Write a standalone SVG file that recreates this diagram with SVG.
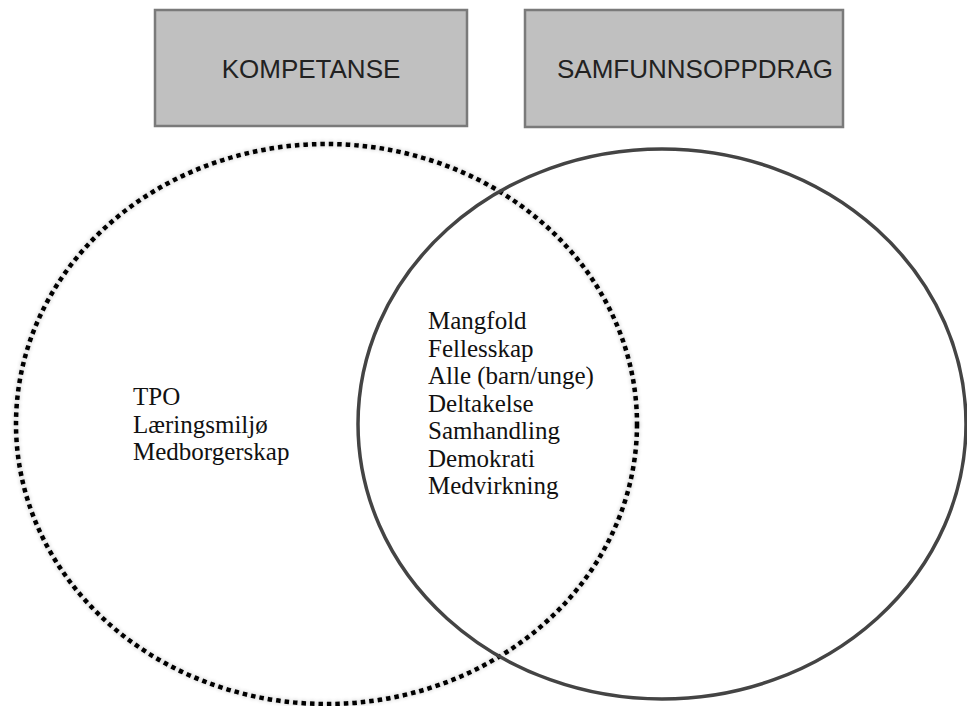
<svg xmlns="http://www.w3.org/2000/svg" width="967" height="706" viewBox="0 0 967 706">
  <defs>
    <style>
      .box { fill: #c0c0c0; stroke: #7a7a7a; stroke-width: 2.5; }
      .boxlabel { font-family: "Liberation Sans", Arial, sans-serif; font-size: 26px; fill: #222; text-anchor: middle; }
      .item { font-family: "Liberation Serif", "Times New Roman", serif; font-size: 25px; fill: #111; }
      .dotted { fill: none; stroke: #000; stroke-width: 4.5; stroke-dasharray: 4.5 4; }
      .solid { fill: none; stroke: #444; stroke-width: 3.5; }
    </style>
    <filter id="soft" x="-5%" y="-5%" width="110%" height="110%">
      <feGaussianBlur in="SourceAlpha" stdDeviation="2.2"/>
      <feComponentTransfer><feFuncA type="linear" slope="0.3"/></feComponentTransfer>
      <feMerge><feMergeNode/><feMergeNode in="SourceGraphic"/></feMerge>
    </filter>
  </defs>
  <rect width="967" height="706" fill="#ffffff"/>

  <g id="kompetanse">
    <rect class="box" x="155" y="10" width="312" height="116"/>
    <text class="boxlabel" x="311" y="78">KOMPETANSE</text>
  </g>

  <g id="samfunnsoppdrag">
    <rect class="box" x="525" y="10" width="318" height="117"/>
    <text class="boxlabel" x="695" y="78">SAMFUNNSOPPDRAG</text>
  </g>

  <g id="kompetanse-circle">
    <ellipse class="dotted" cx="326.5" cy="424" rx="310.5" ry="280" filter="url(#soft)"/>
    <text class="item" x="133">
      <tspan x="133" y="405">TPO</tspan>
      <tspan x="133" y="432.5">Læringsmiljø</tspan>
      <tspan x="133" y="460">Medborgerskap</tspan>
    </text>
  </g>

  <g id="samfunnsoppdrag-circle">
    <ellipse class="solid" cx="662" cy="424" rx="304" ry="275"/>
  </g>

  <g id="overlap">
    <text class="item" x="428">
      <tspan x="428" y="329">Mangfold</tspan>
      <tspan x="428" y="356.5">Fellesskap</tspan>
      <tspan x="428" y="384">Alle (barn/unge)</tspan>
      <tspan x="428" y="411.5">Deltakelse</tspan>
      <tspan x="428" y="439">Samhandling</tspan>
      <tspan x="428" y="466.5">Demokrati</tspan>
      <tspan x="428" y="494">Medvirkning</tspan>
    </text>
  </g>

  <g id="connectors"></g>
</svg>
